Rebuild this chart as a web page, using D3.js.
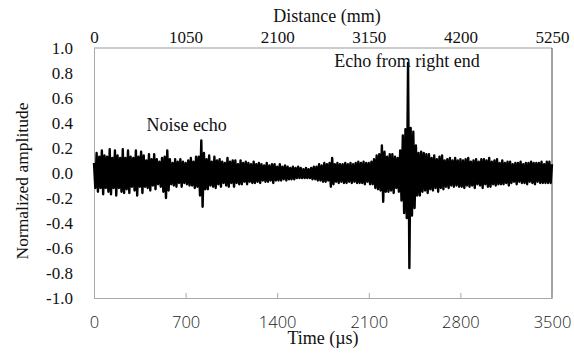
<!DOCTYPE html>
<html>
<head>
<meta charset="utf-8">
<script src="https://cdn.jsdelivr.net/npm/d3@7"></script>
<style>
  body { margin: 0; background: #fff; }
</style>
</head>
<body>
<div id="chart"></div>
<script>
// time axis (µs) and distance axis (mm)
const timeTicks = [0, 700, 1400, 2100, 2800, 3500];
const distTicks = [0, 1050, 2100, 3150, 4200, 5250];
const ampTicks = [-1.0, -0.8, -0.6, -0.4, -0.2, 0.0, 0.2, 0.4, 0.6, 0.8, 1.0];

// sampling step of the trace, µs
const step = 10;

// normalized amplitude, one value every 10 µs (0 .. 3500)
const amplitude = [
  0.08,-0.12,0.16,-0.15,0.13,-0.12,0.18,-0.17,0.14,-0.12,
  0.13,-0.15,0.19,-0.17,0.12,-0.12,0.18,-0.18,0.14,-0.12,
  0.12,-0.15,0.19,-0.16,0.12,-0.13,0.18,-0.16,0.13,-0.11,
  0.12,-0.14,0.18,-0.18,0.13,-0.11,0.17,-0.16,0.14,-0.11,
  0.10,-0.12,0.15,-0.14,0.11,-0.10,0.15,-0.13,0.11,-0.09,
  0.09,-0.11,0.12,-0.15,0.13,-0.20,0.18,-0.14,0.11,-0.09,
  0.08,-0.10,0.11,-0.11,0.09,-0.08,0.11,-0.11,0.09,-0.08,
  0.08,-0.09,0.10,-0.10,0.12,-0.10,0.09,-0.12,0.13,-0.11,
  0.13,-0.18,0.26,-0.27,0.16,-0.13,0.11,-0.13,0.14,-0.10,
  0.09,-0.11,0.13,-0.12,0.10,-0.09,0.11,-0.11,0.09,-0.08,
  0.08,-0.10,0.12,-0.11,0.09,-0.08,0.10,-0.11,0.10,-0.08,
  0.07,-0.09,0.10,-0.09,0.08,-0.07,0.09,-0.09,0.08,-0.07,
  0.07,-0.08,0.09,-0.08,0.07,-0.07,0.08,-0.08,0.07,-0.06,
  0.06,-0.07,0.08,-0.07,0.06,-0.06,0.07,-0.08,0.07,-0.06,
  0.05,-0.06,0.07,-0.06,0.05,-0.05,0.06,-0.06,0.05,-0.05,
  0.04,-0.05,0.05,-0.05,0.04,-0.04,0.05,-0.04,0.04,-0.04,
  0.03,-0.04,0.04,-0.04,0.03,-0.04,0.04,-0.05,0.05,-0.05,
  0.05,-0.06,0.07,-0.06,0.06,-0.07,0.08,-0.07,0.07,-0.06,
  0.08,-0.11,0.12,-0.09,0.07,-0.07,0.08,-0.08,0.07,-0.07,
  0.07,-0.08,0.08,-0.08,0.07,-0.07,0.08,-0.08,0.07,-0.07,
  0.08,-0.08,0.09,-0.08,0.08,-0.08,0.09,-0.09,0.08,-0.07,
  0.08,-0.09,0.09,-0.09,0.11,-0.12,0.14,-0.13,0.15,-0.14,
  0.22,-0.23,0.17,-0.15,0.13,-0.15,0.15,-0.14,0.15,-0.16,
  0.13,-0.12,0.12,-0.15,0.18,-0.22,0.30,-0.32,0.35,-0.36,
  0.88,-0.76,0.36,-0.34,0.33,-0.28,0.22,-0.18,0.16,-0.18,
  0.17,-0.15,0.16,-0.14,0.15,-0.16,0.15,-0.13,0.12,-0.14,
  0.14,-0.12,0.11,-0.15,0.13,-0.12,0.14,-0.13,0.10,-0.11,
  0.11,-0.12,0.12,-0.10,0.10,-0.11,0.12,-0.10,0.10,-0.11,
  0.11,-0.11,0.10,-0.12,0.11,-0.10,0.12,-0.11,0.09,-0.10,
  0.10,-0.12,0.11,-0.09,0.09,-0.10,0.11,-0.12,0.11,-0.09,
  0.10,-0.11,0.12,-0.11,0.09,-0.09,0.10,-0.10,0.11,-0.09,
  0.08,-0.09,0.10,-0.09,0.08,-0.08,0.09,-0.10,0.09,-0.08,
  0.07,-0.07,0.08,-0.09,0.08,-0.07,0.09,-0.08,0.07,-0.08,
  0.08,-0.09,0.08,-0.07,0.09,-0.08,0.08,-0.09,0.08,-0.07,
  0.08,-0.08,0.09,-0.08,0.07,-0.08,0.09,-0.08,0.09,-0.08,
  0.07
];

const notes = [
  {label: "Noise echo", t: 708, a: 0.34},
  {label: "Echo from right end", t: 2392, a: 0.85}
];

const serif = "'Liberation Serif', 'DejaVu Serif', serif";
const sans = "'Open Sans', 'DejaVu Sans', sans-serif";

const W = 574, H = 354;
const margin = {top: 48, right: 22, bottom: 56, left: 94};
const innerW = W - margin.left - margin.right;
const innerH = H - margin.top - margin.bottom;

const svg = d3.select("#chart").append("svg")
    .attr("width", W)
    .attr("height", H);

const g = svg.append("g")
    .attr("transform", "translate(" + margin.left + "," + margin.top + ")");

const x = d3.scaleLinear().domain([0, 3500]).range([0, innerW]);
const xTop = d3.scaleLinear().domain([0, 5250]).range([0, innerW]);
const y = d3.scaleLinear().domain([-1, 1]).range([innerH, 0]);

// frame
g.append("line").attr("x1", 0).attr("x2", innerW).attr("y1", 0).attr("y2", 0)
    .attr("stroke", "#9a9a9a");
g.append("line").attr("x1", innerW).attr("x2", innerW).attr("y1", 0).attr("y2", innerH)
    .attr("stroke", "#444");

// bottom axis, ticks pointing inward
const bottomAxis = g.append("g")
    .attr("transform", "translate(0," + innerH + ")")
    .call(d3.axisBottom(x).tickValues(timeTicks).tickSize(-5).tickPadding(18).tickFormat(d3.format("d")))
    .attr("font-family", sans);
bottomAxis.select(".domain").attr("stroke", "#a8a8a8");
bottomAxis.selectAll(".tick line").attr("stroke", "#a8a8a8");
bottomAxis.selectAll(".tick text").attr("font-size", 16.5).attr("font-weight", 300).attr("fill", "#222");

// top axis: labels only
const topAxis = g.append("g")
    .call(d3.axisTop(xTop).tickValues(distTicks).tickSize(0).tickPadding(5).tickFormat(d3.format("d")))
    .attr("font-family", serif);
topAxis.select(".domain").remove();
topAxis.selectAll(".tick text").attr("font-size", 17).attr("fill", "#111");

// left axis: labels only
const leftAxis = g.append("g")
    .call(d3.axisLeft(y).tickValues(ampTicks).tickSize(0).tickPadding(21).tickFormat(d3.format(".1f")))
    .attr("font-family", serif);
leftAxis.select(".domain").attr("stroke", "#a8a8a8");
leftAxis.selectAll(".tick text").attr("font-size", 17).attr("fill", "#111")
    .text(d => d3.format(".1f")(d).replace("\u2212", "-"));

// waveform
const line = d3.line()
    .x((d, i) => x(i * step))
    .y(d => y(d));

g.append("path")
    .datum(amplitude)
    .attr("fill", "none")
    .attr("stroke", "#000")
    .attr("stroke-width", 2.4)
    .attr("stroke-linejoin", "round")
    .attr("d", line);

// annotations
g.selectAll(".note")
    .data(notes)
  .enter().append("text")
    .attr("class", "note")
    .attr("x", d => x(d.t))
    .attr("y", d => y(d.a))
    .attr("text-anchor", "middle")
    .attr("font-family", serif)
    .attr("font-size", 18)
    .attr("fill", "#111")
    .text(d => d.label);

// axis titles
svg.append("text")
    .attr("x", margin.left + innerW / 2 + 4)
    .attr("y", 22)
    .attr("text-anchor", "middle")
    .attr("font-family", serif)
    .attr("font-size", 18)
    .attr("fill", "#111")
    .text("Distance (mm)");

svg.append("text")
    .attr("x", margin.left + innerW / 2)
    .attr("y", 344)
    .attr("text-anchor", "middle")
    .attr("font-family", serif)
    .attr("font-size", 18)
    .attr("fill", "#111")
    .text("Time (\u00b5s)");

svg.append("text")
    .attr("transform", "translate(28," + (margin.top + innerH / 2 + 8) + ") rotate(-90)")
    .attr("text-anchor", "middle")
    .attr("font-family", serif)
    .attr("font-size", 17.5)
    .attr("fill", "#111")
    .text("Normalized amplitude");
</script>
</body>
</html>
